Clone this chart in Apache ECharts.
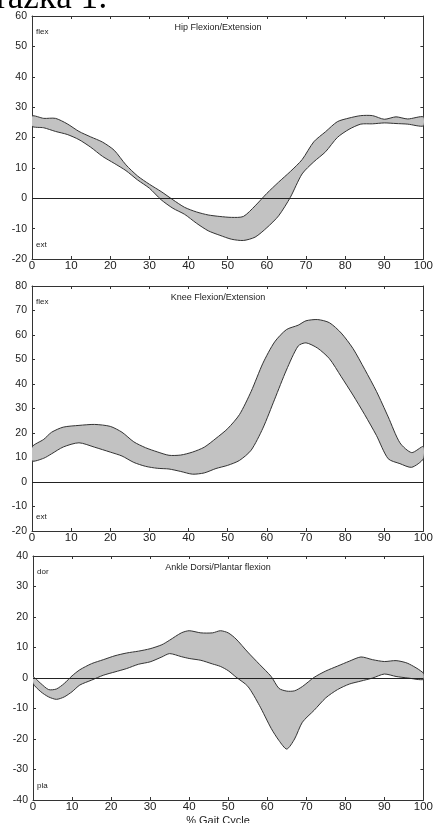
<!DOCTYPE html>
<html>
<head>
<meta charset="utf-8">
<script src="https://cdn.jsdelivr.net/npm/echarts@6/dist/echarts.min.js"></script>
<style>
html, body { margin: 0; padding: 0; background: #fff; }
#chart { width: 436px; height: 823px; }
</style>
</head>
<body>
<div id="chart"></div>
<script>
// % gait cycle sample points and band edges (degrees)
const hipX = [0, 3, 6, 9, 12, 15, 18, 21, 24, 27, 30, 33, 36, 39, 42, 45, 48, 51, 54, 57, 60, 63, 66, 69, 72, 75, 78, 81, 84, 87, 90, 93, 96, 100];
const hipUpper = [27.1, 26.3, 26.3, 24.5, 22, 20.2, 18.5, 15.8, 11, 7.3, 4.6, 2.2, -0.5, -3, -4.5, -5.5, -6, -6.3, -6, -2.5, 1.6, 5.3, 8.8, 12.7, 18.6, 21.9, 25.2, 26.4, 27.2, 27.2, 26, 26.8, 26.1, 26.8];
const hipLower = [23.7, 23.2, 22, 21, 19.3, 16.8, 13.8, 11.5, 9.1, 6, 3.3, -0.5, -3.3, -5.3, -8.2, -10.7, -12.2, -13.5, -13.9, -12.8, -9.7, -5.8, 0.3, 8, 12, 15.3, 20, 22.7, 24.4, 24.5, 24.8, 24.6, 24.4, 23.8];

const kneeX = [0, 3, 5, 8, 12, 16, 20, 23, 26, 29, 32, 35, 38, 41, 44, 47, 50, 53, 56, 59, 62, 65, 68, 70, 73, 76, 79, 82, 85, 88, 91, 94, 97, 100];
const kneeUpper = [14.3, 17.4, 20.3, 22.4, 23.1, 23.5, 22.7, 20.3, 16.4, 14, 12.3, 10.9, 11, 12.2, 14.2, 17.8, 21.8, 27.5, 37, 48.5, 57.2, 62.2, 64, 65.8, 66.3, 65, 60.8, 54.5, 46, 37, 26.6, 16, 12, 14.5];
const kneeLower = [8.6, 9.7, 11.5, 14.3, 16, 14.2, 12.2, 10.6, 8, 6.4, 5.6, 5.3, 4.3, 3.2, 3.7, 5.5, 6.8, 8.8, 13, 22, 33.8, 45.7, 55.5, 56.8, 54.6, 50.3, 43, 35.5, 27.5, 19, 9.5, 7.5, 6, 9.5];

const ankleX = [0, 2, 4, 6, 8, 10, 12, 15, 18, 21, 24, 27, 30, 33, 35, 38, 40, 43, 46, 48, 50, 52, 55, 58, 61, 63, 65, 67, 69, 72, 75, 78, 81, 84, 87, 90, 93, 96, 100];
const ankleUpper = [0.4, -1.8, -3.8, -3.6, -1.8, 0.7, 2.7, 4.7, 6, 7.3, 8.2, 8.8, 9.6, 10.9, 12.4, 14.8, 15.5, 14.8, 14.8, 15.5, 14.8, 12.8, 8.5, 4.5, 0.5, -3.4, -4.3, -4.2, -2.8, 0.2, 2.3, 3.9, 5.5, 6.9, 6, 5.4, 5.7, 4.8, 1.6];
const ankleLower = [-1.8, -4.5, -6.2, -7, -6.2, -4.5, -2.3, -0.7, 0.9, 2, 3.1, 4.5, 5.3, 6.9, 8, 7, 6.4, 5.8, 4.6, 3.8, 2.4, 0.3, -2.7, -9, -16.5, -20.5, -23.3, -20, -14.5, -10.6, -6.5, -3.8, -2, -1, 0, 1.3, 0.5, 0, -0.5];

const panels = [
  { title: 'Hip Flexion/Extension', up: 'flex', down: 'ext', yMin: -20, yMax: 60, x: hipX, hi: hipUpper, lo: hipLower },
  { title: 'Knee Flexion/Extension', up: 'flex', down: 'ext', yMin: -20, yMax: 80, x: kneeX, hi: kneeUpper, lo: kneeLower },
  { title: 'Ankle Dorsi/Plantar flexion', up: 'dor', down: 'pla', yMin: -40, yMax: 40, x: ankleX, hi: ankleUpper, lo: ankleLower }
];

const grids = [
  { left: 32, top: 16, width: 393, height: 243 },
  { left: 32, top: 286, width: 395, height: 245 },
  { left: 33, top: 556, width: 395, height: 244 }
];

const ink = '#333';
const font = 'Liberation Sans, Arial, sans-serif';
const frameLine = { show: true, onZero: false, lineStyle: { color: ink, width: 1 } };
const innerTick = { show: true, inside: true, length: 3, lineStyle: { color: ink } };

const xAxes = [];
const yAxes = [];
const series = [];
const graphics = [];

// band between lower and upper edge, drawn as one polygon in data coords
function bandRenderer(p) {
  return function (params, api) {
    if (params.dataIndex !== 0) return null;
    const pts = [];
    p.x.forEach((x, k) => pts.push(api.coord([x, p.hi[k]])));
    for (let k = p.x.length - 1; k >= 0; k--) pts.push(api.coord([p.x[k], p.lo[k]]));
    return {
      type: 'polygon',
      shape: { points: pts, smooth: 0.25 },
      style: { fill: '#c2c2c2', stroke: ink, lineWidth: 1 }
    };
  };
}

panels.forEach((p, i) => {
  xAxes.push({
    type: 'value', gridIndex: i, min: 0, max: 100, interval: 10, position: 'bottom',
    axisLine: frameLine, axisTick: innerTick, splitLine: { show: false },
    axisLabel: { color: '#222', fontSize: 11.5, fontFamily: font, margin: 1 }
  });
  xAxes.push({
    type: 'value', gridIndex: i, min: 0, max: 100, interval: 10, position: 'top',
    axisLine: frameLine, axisTick: innerTick, splitLine: { show: false }, axisLabel: { show: false }
  });
  yAxes.push({
    type: 'value', gridIndex: i, min: p.yMin, max: p.yMax, interval: 10, position: 'left',
    axisLine: frameLine, axisTick: innerTick, splitLine: { show: false },
    axisLabel: { color: '#222', fontSize: 10.5, fontFamily: font, margin: 5 }
  });
  yAxes.push({
    type: 'value', gridIndex: i, min: p.yMin, max: p.yMax, interval: 10, position: 'right',
    axisLine: frameLine, axisTick: innerTick, splitLine: { show: false }, axisLabel: { show: false }
  });

  series.push({
    type: 'custom', xAxisIndex: i * 2, yAxisIndex: i * 2, silent: true, clip: true,
    renderItem: bandRenderer(p),
    data: p.x.map((x, k) => [x, p.lo[k], p.hi[k]]),
    encode: { x: 0, y: [1, 2] },
    markLine: {
      silent: true, symbol: 'none', label: { show: false }, animation: false,
      lineStyle: { color: '#222', width: 1.2, type: 'solid' },
      data: [{ yAxis: 0 }]
    }
  });

  const g = grids[i];
  graphics.push({
    type: 'text', left: 'center', top: g.top + 7,
    style: { text: p.title, font: '9px ' + font, fill: '#222' }, x: 12
  });
  graphics.push({
    type: 'text', left: g.left + 4, top: g.top + 12,
    style: { text: p.up, font: '8px ' + font, fill: '#222' }
  });
  graphics.push({
    type: 'text', left: g.left + 4, top: g.top + g.height - 18,
    style: { text: p.down, font: '8px ' + font, fill: '#222' }
  });
});

graphics.push({
  type: 'text', left: 'center', top: 815,
  style: { text: '% Gait Cycle', font: '11px ' + font, fill: '#222' }, x: 12
});
graphics.push({
  type: 'text', left: -4, top: -19,
  style: { text: 'ražka 1:', font: '35px Liberation Serif, serif', fill: '#000' }
});

const chart = echarts.init(document.getElementById('chart'), null, { renderer: 'canvas' });
chart.setOption({
  animation: false,
  backgroundColor: '#fff',
  grid: grids,
  xAxis: xAxes,
  yAxis: yAxes,
  series: series,
  graphic: graphics
});
</script>
</body>
</html>
